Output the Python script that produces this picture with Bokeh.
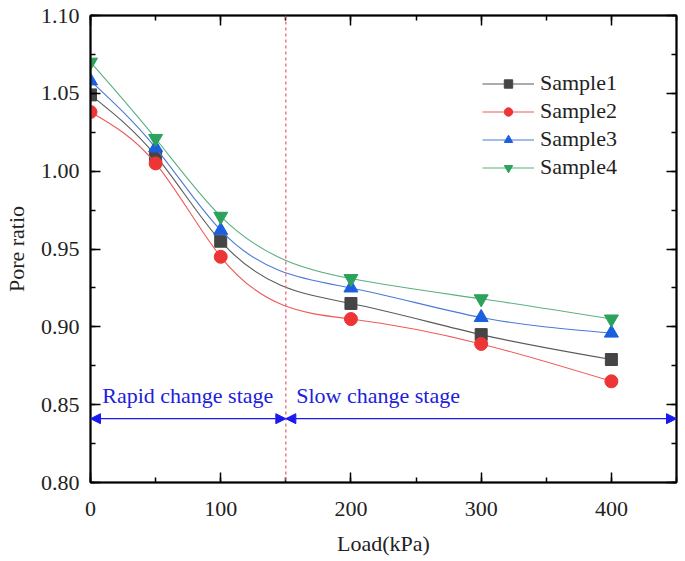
import numpy as np
from bokeh.plotting import figure
from bokeh.models import (ColumnDataSource, LinearAxis, SingleIntervalTicker, NumeralTickFormatter,
                          Legend, LegendItem, Span, Arrow, NormalHead, Label, Range1d,
                          CustomJSTickFormatter)
from bokeh.embed import file_html
from bokeh.resources import INLINE

# ---------------- data ----------------
loads = [0, 50, 100, 200, 300, 400]
sample1 = [1.049, 1.010, 0.955, 0.915, 0.895, 0.879]
sample2 = [1.038, 1.005, 0.945, 0.905, 0.889, 0.865]
sample3 = [1.058, 1.015, 0.962, 0.925, 0.906, 0.896]
sample4 = [1.070, 1.021, 0.971, 0.931, 0.918, 0.905]
series_names = ["Sample1", "Sample2", "Sample3", "Sample4"]
stage_boundary = 150
arrow_level = 0.841
stage_labels = ["Rapid change stage", "Slow change stage"]

FONT = "Liberation Serif"
colors = ["#454545", "#ee3535", "#1b5fe0", "#2ca25c"]
line_colors = ["#5a5a5a", "#ee5a5a", "#4a7ad8", "#5ab080"]
markers = ["square", "circle", "triangle", "inverted_triangle"]
msizes = [12, 13, 14, 14]


def spline_bezier(x, y):
    """Natural cubic spline through the points, returned as exact Bezier segments."""
    x = np.asarray(x, float)
    y = np.asarray(y, float)
    n = len(x)
    h = np.diff(x)
    A = np.zeros((n, n))
    r = np.zeros(n)
    A[0, 0] = A[-1, -1] = 1
    for i in range(1, n - 1):
        A[i, i - 1] = h[i - 1]
        A[i, i] = 2 * (h[i - 1] + h[i])
        A[i, i + 1] = h[i]
        r[i] = 6 * ((y[i + 1] - y[i]) / h[i] - (y[i] - y[i - 1]) / h[i - 1])
    M = np.linalg.solve(A, r)
    d = np.zeros(n)
    for i in range(n - 1):
        d[i] = (y[i + 1] - y[i]) / h[i] - h[i] * (2 * M[i] + M[i + 1]) / 6
    d[-1] = (y[-1] - y[-2]) / h[-1] + h[-1] * (M[-2] + 2 * M[-1]) / 6
    return dict(x0=x[:-1], y0=y[:-1], x1=x[1:], y1=y[1:],
                cx0=x[:-1] + h / 3, cy0=y[:-1] + d[:-1] * h / 3,
                cx1=x[1:] - h / 3, cy1=y[1:] - d[1:] * h / 3)


p = figure(frame_width=586, frame_height=467, output_backend="svg", toolbar_location=None,
           x_range=Range1d(0, 450), y_range=Range1d(0.80, 1.10),
           min_border_left=85, min_border_top=15, min_border_right=4, min_border_bottom=10,
           x_axis_label="Load(kPa)", y_axis_label="Pore ratio")
p.xgrid.visible = False
p.ygrid.visible = False
p.outline_line_color = "black"
p.outline_line_width = 1.5
p.background_fill_color = "white"
p.border_fill_color = "white"

xt = SingleIntervalTicker(interval=100, num_minor_ticks=2)
yt = SingleIntervalTicker(interval=0.05, num_minor_ticks=2)
p.xaxis.ticker = xt
p.yaxis.ticker = yt
p.yaxis.formatter = NumeralTickFormatter(format="0.00")

for ax in (p.xaxis[0], p.yaxis[0]):
    ax.axis_line_width = 2
    ax.axis_line_color = "black"
    ax.major_tick_in = 10
    ax.major_tick_out = 0
    ax.minor_tick_in = 5
    ax.minor_tick_out = 0
    ax.major_tick_line_width = 1.5
    ax.minor_tick_line_width = 1.5
    ax.major_label_text_font = FONT
    ax.major_label_text_font_size = "22px"
    ax.major_label_text_color = "#222222"
    ax.axis_label_text_font = FONT
    ax.axis_label_text_font_size = "22px"
    ax.axis_label_text_font_style = "normal"
    ax.axis_label_text_color = "#222222"
p.xaxis.major_label_standoff = 19
p.xaxis.axis_label_standoff = 12
p.yaxis.major_label_standoff = 11
p.yaxis.axis_label_standoff = 9

# mirrored axes (top and right) with ticks only
blank = CustomJSTickFormatter(code="return ''")
top = LinearAxis(ticker=SingleIntervalTicker(interval=100, num_minor_ticks=2), formatter=blank)
right = LinearAxis(ticker=SingleIntervalTicker(interval=0.05, num_minor_ticks=2), formatter=blank)
for ax in (top, right):
    ax.axis_line_width = 2
    ax.major_tick_in = 10
    ax.major_tick_out = 0
    ax.minor_tick_in = 5
    ax.minor_tick_out = 0
    ax.major_tick_line_width = 1.5
    ax.minor_tick_line_width = 1.5
    ax.major_label_standoff = 0
p.add_layout(top, "above")
p.add_layout(right, "right")

# divider
p.add_layout(Span(location=stage_boundary, dimension="height", line_color="#e85a6a",
                  line_dash="3 3", line_width=1.2))

# stage arrows
blue = "#1a1aee"
for xs, xe in [(0, stage_boundary), (stage_boundary, 450)]:
    p.add_layout(Arrow(x_start=xs, y_start=arrow_level, x_end=xe, y_end=arrow_level,
                       line_color=blue, line_width=1.2,
                       start=NormalHead(size=10, fill_color=blue, line_color=blue, line_width=1),
                       end=NormalHead(size=10, fill_color=blue, line_color=blue, line_width=1)))

p.add_layout(Label(x=9, y=0.856, text=stage_labels[0], text_font=FONT, text_font_size="22px",
                   text_color="#2020dd", text_baseline="middle"))
p.add_layout(Label(x=158, y=0.856, text=stage_labels[1], text_font=FONT, text_font_size="22px",
                   text_color="#2020dd", text_baseline="middle"))

items = []
for name, vals, c, lc, m, s in zip(series_names, [sample1, sample2, sample3, sample4],
                                  colors, line_colors, markers, msizes):
    src = ColumnDataSource(spline_bezier(loads, vals))
    r1 = p.bezier(x0="x0", y0="y0", x1="x1", y1="y1", cx0="cx0", cy0="cy0", cx1="cx1", cy1="cy1",
                  source=src, line_color=lc, line_width=1.1)
    r2 = p.scatter(loads, vals, marker=m, size=s, fill_color=c, line_color=c)
    items.append(LegendItem(label=name, renderers=[r1, r2]))

legend = Legend(items=items, location=(392, 302), glyph_width=52, glyph_height=21,
                label_text_font=FONT, label_text_font_size="22px", label_text_color="#222222",
                spacing=2, padding=0, margin=0, border_line_color=None,
                background_fill_alpha=0, label_standoff=6)
p.add_layout(legend, "center")

open("out.html", "w").write(file_html(p, INLINE))
